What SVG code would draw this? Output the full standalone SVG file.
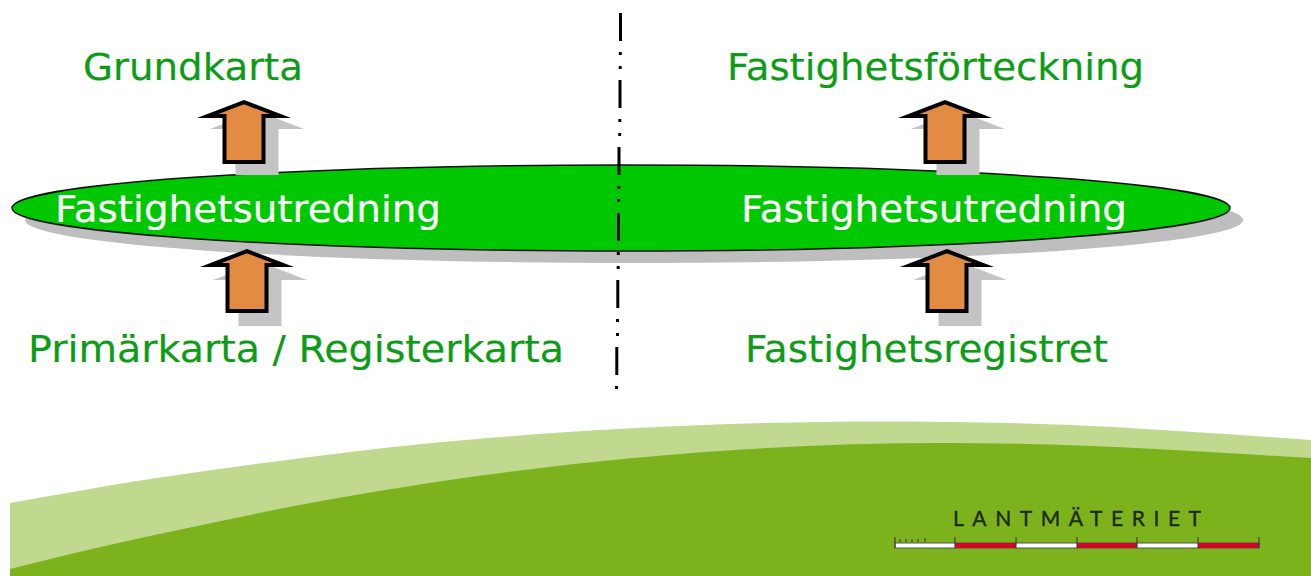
<svg xmlns="http://www.w3.org/2000/svg" width="1311" height="576" viewBox="0 0 1311 576">
<style>
.t{font-family:"DejaVu Sans",Verdana,sans-serif;font-size:38px;stroke-width:.2px}
.g{fill:#0c9c16;stroke:#0c9c16}
.w{fill:#fff;stroke:#fff}
.sh{fill:#c4c4c4;stroke:#c4c4c4;stroke-width:4;stroke-miterlimit:20}
.ar{fill:#e38a43;stroke:#000;stroke-width:4;stroke-miterlimit:20}
.cl{stroke:#000;fill:none;stroke-width:3}
</style>
<defs>
<path id="arrowTop" d="M0 2.140L36.200 16H19.500V62H-19.500V16H-36.200Z"/>
</defs>
<rect width="1311" height="576" fill="#fff"/>
<g id="ground">
<path d="M10 503C57 495 103 486 150 479C217 469 283 460 350 452C480 436 680 421.500 882 421.500C960 421.500 1037 423 1114 427C1180 431 1245 435 1311 440V576H10Z" fill="#c0d98f"/>
<path d="M10 569C57 557 103 546 150 536C217 522 283 507 350 496C520 466 730 443 945 443C1016 443 1086 445 1156 449C1208 452 1260 455 1311 458V576H10Z" fill="#7cb31c"/>
</g>
<g id="ellipse-node">
<ellipse cx="634" cy="220" rx="609" ry="43" fill="#bebebe"/>
<ellipse cx="621" cy="208" rx="609" ry="43" fill="#00c800" stroke="#111" stroke-width="1.500"/>
<text class="t w" x="55" y="222" textLength="386" lengthAdjust="spacingAndGlyphs">Fastighetsutredning</text>
<text class="t w" x="741" y="222" textLength="386" lengthAdjust="spacingAndGlyphs">Fastighetsutredning</text>
</g>
<g id="connectors">
<use href="#arrowTop" x="257" y="111" class="sh"/>
<use href="#arrowTop" x="244" y="100" class="ar"/>
<use href="#arrowTop" x="958" y="111" class="sh"/>
<use href="#arrowTop" x="945" y="100" class="ar"/>
<use href="#arrowTop" x="260" y="262" class="sh"/>
<use href="#arrowTop" x="247" y="249" class="ar"/>
<use href="#arrowTop" x="960" y="262" class="sh"/>
<use href="#arrowTop" x="947" y="249" class="ar"/>
<path class="cl" d="M620.500 13V41M620.300 52V55M620.200 66V69M620 80V108M619.800 119V122M619.700 133V136M619 147V175M618.800 186V189M618.700 199V202M618.500 213V241M618.300 252V255M618.200 266V269M617.800 280V308M617.500 319V322M617.500 333V336M616.800 347V375M616.500 386V389"/>
</g>
<g id="labels">
<text class="t g" x="83" y="80" textLength="220" lengthAdjust="spacingAndGlyphs">Grundkarta</text>
<text class="t g" x="727" y="80" textLength="417" lengthAdjust="spacingAndGlyphs">Fastighetsförteckning</text>
<text class="t g" x="28" y="362" textLength="536" lengthAdjust="spacingAndGlyphs">Primärkarta / Registerkarta</text>
<text class="t g" x="745" y="362" textLength="363" lengthAdjust="spacingAndGlyphs">Fastighetsregistret</text>
</g>
<g id="logo">
<text x="953" y="526" font-family="Lato,'Liberation Sans',sans-serif" font-size="21" fill="#1c2a10" stroke="#1c2a10" stroke-width=".4" textLength="248">LANTMÄTERIET</text>
<rect x="895" y="543" width="364" height="5" fill="#fff" stroke="#555" stroke-width="1"/>
<g fill="#d3062a"><rect x="955" y="543" width="61" height="5"/><rect x="1077" y="543" width="60" height="5"/><rect x="1198" y="543" width="61" height="5"/></g>
<path d="M895 537V548M955 537V548M1016 537V548M1077 537V548M1137 537V548M1198 537V548M1259 537V548M900 539V542M906 539V542M912 539V542M918 539V542M925 538V542" stroke="#333" stroke-width="1" fill="none"/>
</g>
</svg>
